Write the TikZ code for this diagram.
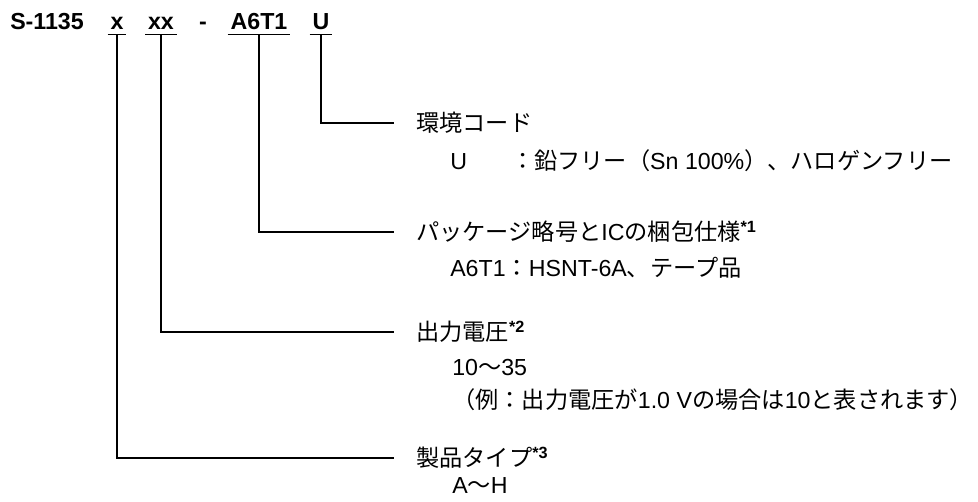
\documentclass[tikz,border=0pt]{standalone}
\usepackage{fontspec}
\setmainfont{Liberation Sans}
\newfontfamily\jp{Noto Sans CJK JP}
\usetikzlibrary{positioning}

\newcommand{\txtsize}{\fontsize{17.4pt}{20pt}\selectfont}
\newcommand{\note}[1]{\textsuperscript{\bfseries *#1}}

\tikzset{
  part/.style={font=\txtsize\bfseries,anchor=base,inner xsep=2pt,inner ysep=3.75pt},
  head/.style={font=\txtsize,anchor=west,inner xsep=16.5pt,inner ysep=0pt},
  sub/.style={font=\txtsize,anchor=west,inner sep=0pt},
  lead/.style={line width=1.1pt},
}

\begin{document}
\begin{tikzpicture}[x=0.75pt,y=-0.75pt]
  \useasboundingbox (0,0) rectangle (978,501);
  % part number
  \node[part,anchor=base west,inner xsep=0pt] (pname) at (10,29) {S-1135};
  \node[part] (px) at (117,29) {x};
  \node[part] (pxx) at (161,29) {xx};
  \node[part] (pdash) at (203,29) {-};
  \node[part] (ppkg) at (259,29) {A6T1};
  \node[part] (penv) at (321,29) {U};
  \foreach \p in {px,pxx,ppkg,penv}
    \draw[lead] (\p.south west) -- (\p.south east);

  % explanations
  \node[head] (lenv) at (394,123) {{\jp 環境コード}};
  \node[sub] (lenvU) at (450,161) {U\hspace{33pt}{\jp ：鉛フリー（}Sn 100\%{\jp ）、ハロゲンフリー}};

  \node[head] (lpkg) at (394,232) {{\jp パッケージ略号と}IC{\jp の梱包仕様}\note{1}};
  \node[sub] (lpkgA) at (450,268) {A6T1{\jp ：}HSNT-6A{\jp 、テープ品}};

  \node[head] (lvolt) at (394,332) {{\jp 出力電圧}\note{2}};
  \node[sub] (lvoltR) at (452,368) {10{\jp ～}35};
  \node[sub] (lvoltE) at (452,400) {{\jp （例：出力電圧が}1.0 V{\jp の場合は}10{\jp と表されます）}};

  \node[head] (ltype) at (394,458) {{\jp 製品タイプ}\note{3}};
  \node[sub] (ltypeR) at (452,486) {A{\jp ～}H};

  \draw[lead] (penv.south) |- (lenv.west);
  \draw[lead] (ppkg.south) |- (lpkg.west);
  \draw[lead] (pxx.south) |- (lvolt.west);
  \draw[lead] (px.south) |- (ltype.west);
\end{tikzpicture}
\end{document}
